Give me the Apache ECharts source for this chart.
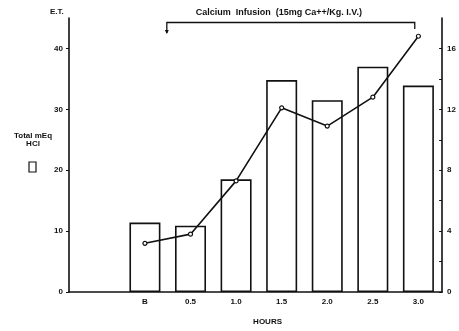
<!DOCTYPE html>
<html>
<head>
<meta charset="utf-8">
<script src="https://cdn.jsdelivr.net/npm/echarts@6/dist/echarts.min.js"></script>
<style>
  html, body { margin: 0; padding: 0; background: #fff; }
  #main { width: 459px; height: 331px; }
</style>
</head>
<body>
<div id="main"></div>
<script>
// hours after start (0 = basal "B")
var hours = [0, 0.5, 1.0, 1.5, 2.0, 2.5, 3.0];
var hourLabels = ['B', '0.5', '1.0', '1.5', '2.0', '2.5', '3.0'];
// bars: total mEq HCl (left axis)
var hclValues = [11.4, 10.9, 18.5, 34.8, 31.5, 37.0, 33.9];
// line: serum Ca++ (right axis)
var caValues = [3.2, 3.8, 7.3, 12.1, 10.9, 12.8, 16.8];
var leftTicks = [0, 10, 20, 30, 40];
var rightTicks = [0, 2, 4, 6, 8, 10, 12, 14, 16];
var rightLabels = [0, 4, 8, 12, 16];
// infusion period (hours)
var infusionStart = 0.24;
var infusionEnd = 2.96;

var font = 'Liberation Sans';
var ink = '#111';

var barData = hours.map(function (h, i) { return [h, hclValues[i]]; });
var lineData = hours.map(function (h, i) { return [h, caValues[i]]; });

var myChart = echarts.init(document.getElementById('main'));

var option = {
    animation: false,
    backgroundColor: '#fff',
    grid: { left: 69, right: 12, top: 18, bottom: 36 },
    xAxis: {
        type: 'value',
        min: -0.833,
        max: 3.26,
        splitLine: { show: false },
        axisTick: { show: false },
        axisLine: { onZero: false, lineStyle: { color: ink, width: 1.6 } },
        axisLabel: {
            customValues: hours,
            color: ink, fontFamily: font, fontSize: 8, fontWeight: 'bold', margin: 6,
            formatter: function (v) {
                var i = hours.indexOf(v);
                return i >= 0 ? hourLabels[i] : '';
            }
        },
        name: 'HOURS',
        nameLocation: 'middle',
        nameGap: 26,
        nameTextStyle: { color: ink, fontFamily: font, fontSize: 8, fontWeight: 'bold', padding: [0, 0, 0, 24] }
    },
    yAxis: [{
        type: 'value',
        min: 0,
        max: 45,
        splitLine: { show: false },
        axisLine: { show: true, onZero: false, lineStyle: { color: ink, width: 1.6 } },
        axisTick: { show: true, customValues: leftTicks, length: 3, lineStyle: { color: ink } },
        axisLabel: {
            customValues: leftTicks,
            color: ink, fontFamily: font, fontSize: 8, fontWeight: 'bold', margin: 6
        }
    }, {
        type: 'value',
        min: 0,
        max: 18,
        position: 'right',
        splitLine: { show: false },
        axisLine: { show: true, onZero: false, lineStyle: { color: ink, width: 1.6 } },
        axisTick: { show: true, inside: true, customValues: rightTicks, length: 3, lineStyle: { color: ink } },
        axisLabel: {
            customValues: rightLabels,
            color: ink, fontFamily: font, fontSize: 8, fontWeight: 'bold', margin: 5
        }
    }],
    series: [{
        type: 'bar',
        yAxisIndex: 0,
        data: barData,
        barWidth: 31,
        itemStyle: { color: '#fff', borderColor: ink, borderWidth: 1.6 },
        z: 2
    }, {
        type: 'line',
        yAxisIndex: 1,
        data: lineData,
        symbol: 'circle',
        symbolSize: 4,
        lineStyle: { color: ink, width: 1.6 },
        itemStyle: { color: '#fff', borderColor: ink, borderWidth: 1.2 },
        z: 3
    }]
};

myChart.setOption(option);

// annotations placed from the axes
var xs = myChart.convertToPixel({ xAxisIndex: 0 }, infusionStart);
var xe = myChart.convertToPixel({ xAxisIndex: 0 }, infusionEnd);
var x0 = myChart.convertToPixel({ xAxisIndex: 0 }, hours[0]);
var yBase = myChart.convertToPixel({ yAxisIndex: 0 }, 0);
var textStyle = { fill: ink, font: 'bold 8px ' + font };

myChart.setOption({
    graphic: [
        { type: 'text', left: 50, top: 8, style: Object.assign({ text: 'E.T.' }, textStyle) },
        { type: 'text', x: 33, y: 132, style: Object.assign({ text: 'Total mEq\nHCl', align: 'center', lineHeight: 8 }, textStyle) },
        { type: 'rect', shape: { x: 29, y: 162, width: 7, height: 10 }, style: { fill: '#fff', stroke: ink, lineWidth: 1.2 } },
        { type: 'text', x: (xs + xe) / 2 - 12, y: 8, style: { text: 'Calcium  Infusion  (15mg Ca++/Kg. I.V.)', align: 'center', fill: ink, font: 'bold 9px ' + font } },
        { type: 'polyline', shape: { points: [[xs, 33], [xs, 22.5], [xe, 22.5], [xe, 29]] }, style: { stroke: ink, lineWidth: 1.3, fill: null } },
        { type: 'polygon', shape: { points: [[xs - 2, 30], [xs + 2, 30], [xs, 34]] }, style: { fill: ink } },
        { type: 'text', x: x0, y: yBase - 22, style: { text: 'Ca++\n9.6', align: 'center', lineHeight: 10, fill: ink, font: 'bold 6px ' + font } }
    ]
});
</script>
</body>
</html>
